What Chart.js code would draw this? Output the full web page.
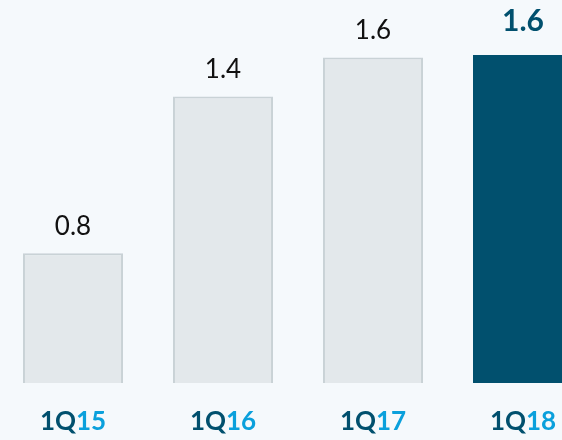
<!DOCTYPE html>
<html>
<head>
<meta charset="utf-8">
<script src="https://cdn.jsdelivr.net/npm/chart.js@4.4.1/dist/chart.umd.min.js"></script>
<style>
  html, body { margin: 0; padding: 0; background: #f5f9fc; overflow: hidden; }
  #wrap { position: relative; width: 562px; height: 440px; overflow: hidden; }
  #wrap canvas { position: absolute; left: -2px; top: 0; }
</style>
</head>
<body>
<div id="wrap"><canvas id="grafico" width="600" height="440"></canvas></div>
<script>
const periodos = ['1Q15', '1Q16', '1Q17', '1Q18'];
const valores = [0.79, 1.43, 1.59, 1.6];
const rotulos = ['0.8', '1.4', '1.6', '1.6'];

const corEscura = '#01506e';
const corClara = '#0aa0dc';
const corCinza = '#e3e8eb';
const bordaCinza = '#c9d2d6';

const rotulosPlugin = {
    id: 'rotulos',
    afterDatasetsDraw(chart){
        const ctx = chart.ctx;
        const meta = chart.getDatasetMeta(0);
        ctx.save();
        meta.data.forEach((bar, i) =>{
            const ultimo = i === periodos.length - 1;
            ctx.textAlign = 'center';
            ctx.textBaseline = 'middle';
            if(ultimo){
                ctx.font = 'bold 30px Lato';
                ctx.fillStyle = corEscura;
                ctx.fillText(rotulos[i], bar.x, bar.y - 34);
            } else {
                ctx.font = '26px Lato';
                ctx.fillStyle = '#111';
                ctx.fillText(rotulos[i], bar.x, bar.y - 27);
            }
            // rotulo do eixo x em duas cores
            const prefixo = periodos[i].slice(0, 2);
            const sufixo = periodos[i].slice(2);
            ctx.font = 'bold 26px Lato';
            const w1 = ctx.measureText(prefixo).width;
            const w2 = ctx.measureText(sufixo).width;
            const x0 = bar.x - (w1 + w2) / 2;
            ctx.textAlign = 'left';
            ctx.fillStyle = corEscura;
            ctx.fillText(prefixo, x0, 422);
            ctx.fillStyle = corClara;
            ctx.fillText(sufixo, x0 + w1, 422);
        });
        ctx.restore();
    }
}

const ctx = document.getElementById('grafico').getContext('2d');
const config = {
    type: 'bar',
    data: {
        labels: periodos,
        datasets: [{
            data: valores,
            backgroundColor: valores.map((v, i)=> i === valores.length - 1 ? corEscura : corCinza),
            borderColor: valores.map((v, i)=> i === valores.length - 1 ? corEscura : bordaCinza),
            borderWidth: 2,
            borderSkipped: false,
            categoryPercentage: 1,
            barPercentage: 0.667
        }]
    },
    options: {
        responsive: false,
        animation: false,
        layout: { padding: { top: 55, bottom: 57, left: 0, right: 0 } },
        plugins: { legend: { display: false }, tooltip: { enabled: false } },
        scales: {
            x: { display: false },
            y: { display: false, min: 0.26, max: 1.6 }
        }
    },
    plugins: [rotulosPlugin]
}
const myChart = new Chart(ctx, config);
</script>
</body>
</html>
